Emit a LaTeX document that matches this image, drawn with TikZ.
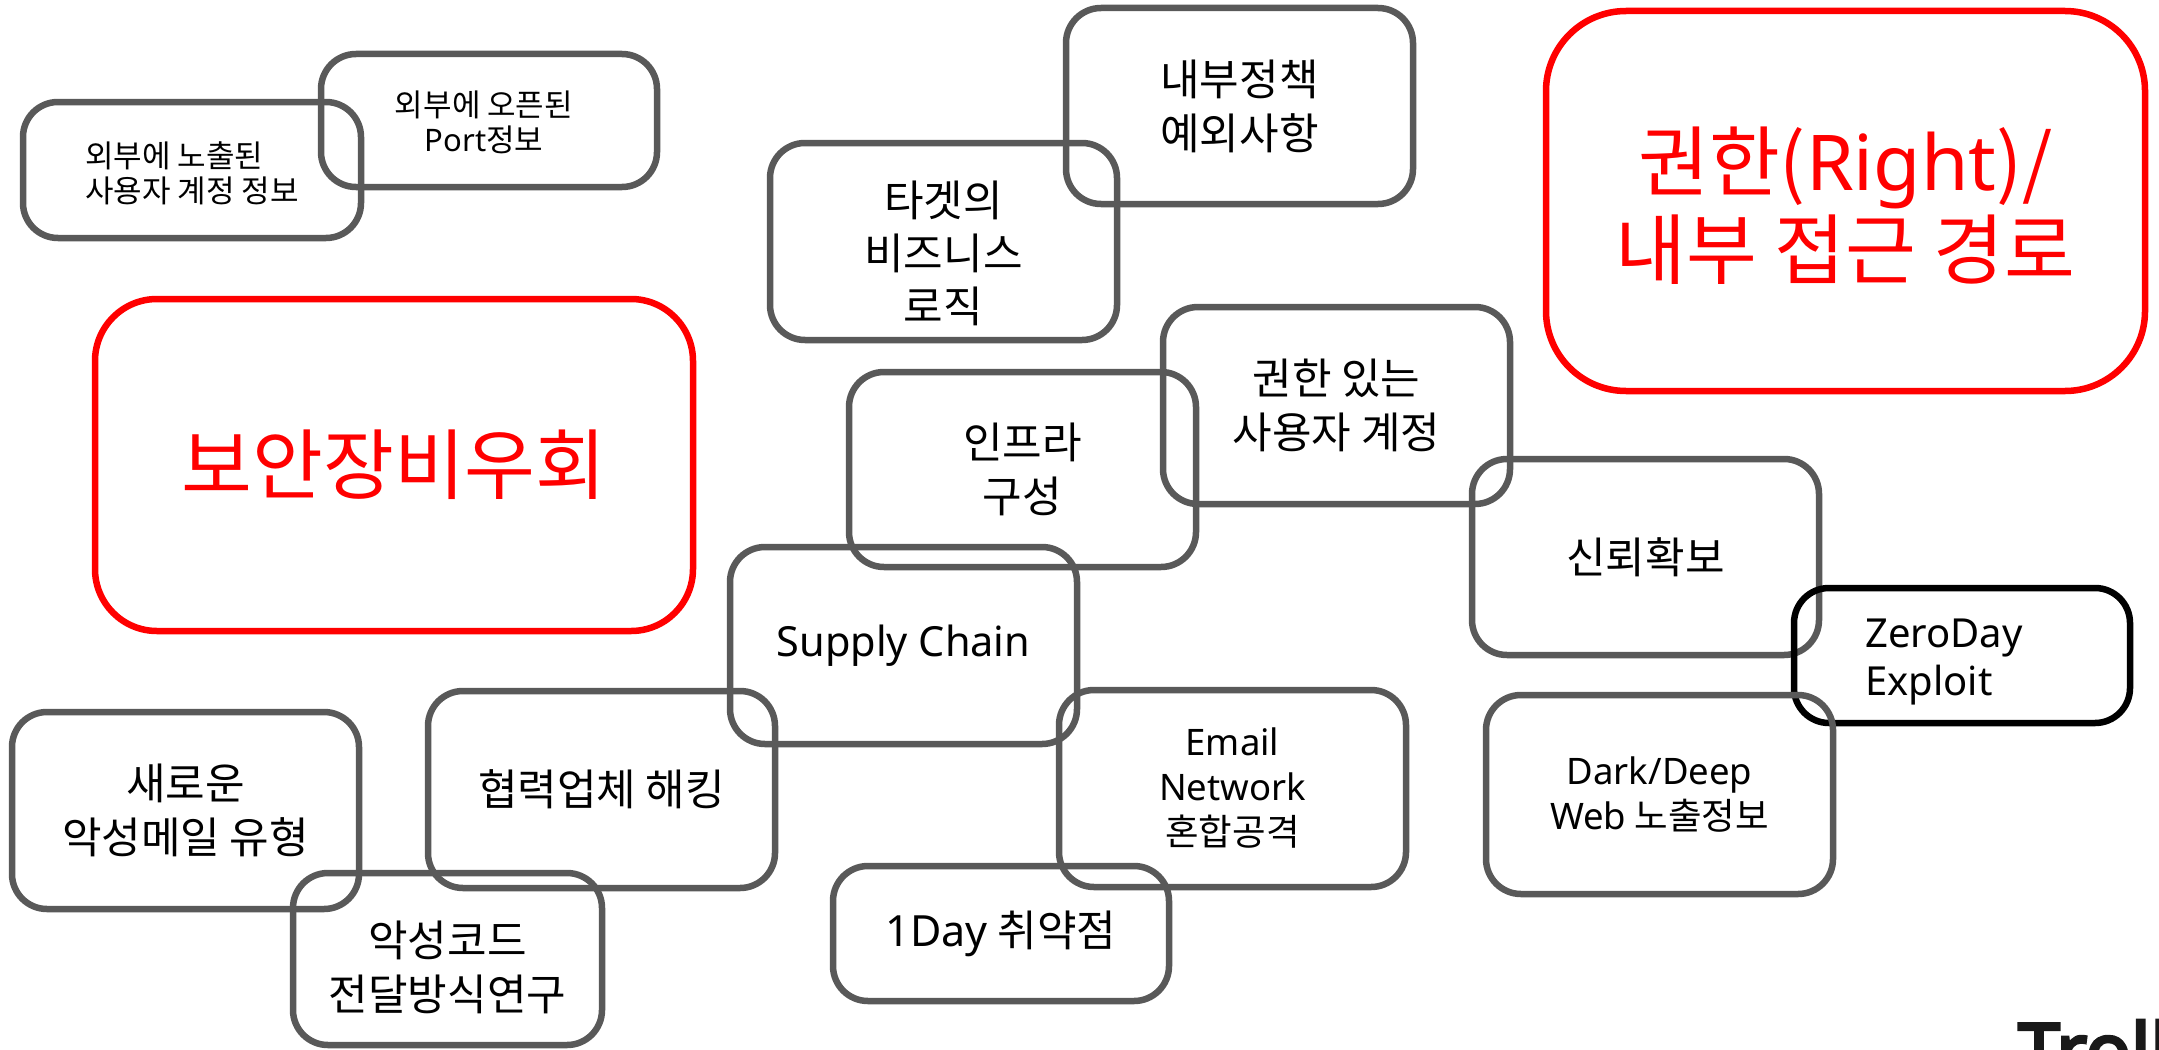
\documentclass[tikz,border=0pt]{standalone}
\usepackage{fontspec}
\setmainfont{Noto Sans}
\newfontfamily\kr{Noto Sans CJK KR}
\newfontfamily\lat{Noto Sans}
\newfontfamily\logofont[FakeBold=4]{Noto Sans}
\definecolor{boxgray}{HTML}{595959}
\definecolor{alertred}{HTML}{FF0000}
\tikzset{
  anybox/.style={line width=6.5pt, align=center, inner sep=0pt, text=black},
  gbox/.style={anybox, draw=boxgray, rounded corners=35pt, font=\kr\fontsize{43}{54}\selectfont},
  gsmall/.style={gbox, font=\kr\fontsize{31}{35}\selectfont},
  gmid/.style={gbox, font=\kr\fontsize{36.5}{45}\selectfont},
  kbox/.style={anybox, draw=black, rounded corners=35pt},
  rbox/.style={anybox, draw=alertred, line width=6.5pt, text=alertred},
  big/.style={minimum width=347pt, minimum height=197pt},
  small/.style={minimum width=336pt, minimum height=135pt},
  plain/.style={inner sep=0pt, align=center}
}
\begin{document}
\begin{tikzpicture}[x=1pt, y=-1pt]
\useasboundingbox (0,0) rectangle (2159,1049);
% top-left pair
\node[gsmall, minimum width=338pt, minimum height=136pt] (expacct) at (192,170) {};
\node[plain, align=left, font=\kr\fontsize{31}{35}\selectfont] (expaccttext) at (192,173) {외부에 노출된\\사용자 계정 정보};
\node[gsmall, minimum width=336pt, minimum height=133pt] (openport) at (489,120.5) {};
\node[plain, font=\kr\fontsize{31}{35}\selectfont] (openporttext) at (484,122) {외부에 오픈된\\{\lat Port}정보};
% red boxes
\node[rbox, rounded corners=62pt, minimum width=598pt, minimum height=332pt, font=\kr\fontsize{77}{90}\selectfont] (bypass) at (394,465) {보안장비우회};
\node[rbox, rounded corners=80pt, minimum width=599pt, minimum height=380pt] (rights) at (1845.5,201) {};
\node[plain, text=alertred, font=\kr\fontsize{77}{88}\selectfont] (rightstext) at (1845.5,206) {권한({\lat Right})/\\내부 접근 경로};
% gray boxes
\node[gbox, big] (target) at (943.5,241.5) {};
\node[plain, font=\kr\fontsize{43}{53}\selectfont] (targettext) at (943.5,253) {타겟의\\비즈니스\\로직};
\node[gbox, big, minimum height=196pt] (policy) at (1239.5,106) {내부정책\\예외사항};
\node[gbox, big] (privacct) at (1336.5,405.5) {권한 있는\\사용자 계정};
\node[gbox, big, minimum height=195pt] (infra) at (1022.5,469.5) {인프라\\구성};
\node[gbox, big, minimum height=196pt] (trust) at (1645.5,557) {신뢰확보};
\node[kbox, small] (zeroday) at (1962,655.5) {};
\node[font=\lat\fontsize{40}{48}\selectfont, align=left, inner sep=0pt] (zerotext) at (1944,662) {ZeroDay\\Exploit};
\node[gbox, big, font=\lat\fontsize{41.5}{52}\selectfont] (supply) at (903.5,645.5) {Supply Chain};
\node[gmid, big] (email) at (1232.5,788.5) {{\lat Email}\\{\lat Network}\\혼합공격};
\node[gmid, big, minimum height=199pt] (darkweb) at (1659.5,794.5) {{\lat Dark/Deep}\\{\lat Web} 노출정보};
\node[gbox, big] (newmail) at (185.5,810.5) {새로운\\악성메일 유형};
\node[gbox, big] (partner) at (601.5,789.5) {협력업체 해킹};
\node[gbox, minimum width=309pt, minimum height=172pt] (malcode) at (447.5,959) {};
\node[plain, font=\kr\fontsize{43}{54}\selectfont] (malcodetext) at (447.5,967) {악성코드\\전달방식연구};
\node[gbox, small] (oneday) at (1001,933.5) {{\lat 1Day} 취약점};
% partially visible logo
\node[anchor=north west, inner sep=0pt, font=\logofont\fontsize{75}{75}\selectfont, text=black!90] (logo) at (2018,1020) {Troll};
\end{tikzpicture}
\end{document}
